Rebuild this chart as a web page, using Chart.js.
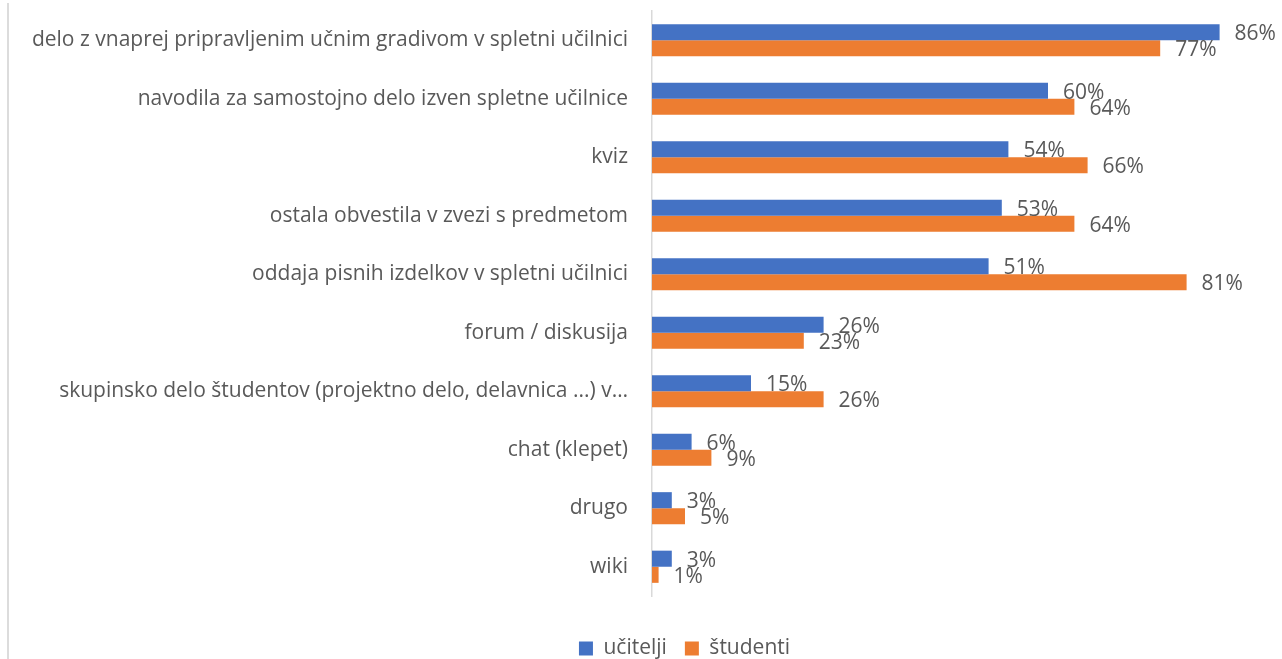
<!DOCTYPE html>
<html>
<head>
<meta charset="utf-8">
<title>Uporaba spletne učilnice</title>
<script src="https://cdn.jsdelivr.net/npm/chart.js@4.4.1/dist/chart.umd.min.js"></script>
<style>
  html, body { margin: 0; padding: 0; background: #ffffff; overflow: hidden; }
  #wrap { position: relative; width: 1282px; height: 669px; }
  #frame { position: absolute; left: 7px; top: 3px; width: 2px; height: 666px; background: #dcdcdc; }
  #c { position: absolute; left: 0; top: 0; }
</style>
</head>
<body>
<div id="wrap">
  <div id="frame"></div>
  <canvas id="c" width="1282" height="669" style="width:1282px;height:669px"></canvas>
</div>
<script>
// Activities in the online classroom
const categories = [
  'delo z vnaprej pripravljenim učnim gradivom v spletni učilnici',
  'navodila za samostojno delo izven spletne učilnice',
  'kviz',
  'ostala obvestila v zvezi s predmetom',
  'oddaja pisnih izdelkov v spletni učilnici',
  'forum / diskusija',
  'skupinsko delo študentov (projektno delo, delavnica ...) v…',
  'chat (klepet)',
  'drugo',
  'wiki'
];
const seriesNames = ['učitelji', 'študenti'];
// Shares in percent
const ucitelji = [86, 60, 54, 53, 51, 26, 15, 6, 3, 3];
const studenti = [77, 64, 66, 64, 81, 23, 26, 9, 5, 1];

const FONT = '"Open Sans", "DejaVu Sans", sans-serif';
const SIZE = 21;
const TEXT = '#595959';

// Percentage label after the end of every bar
const valueLabels = {
  id: 'valueLabels',
  afterDatasetsDraw(chart) {
    const ctx = chart.ctx;
    ctx.save();
    ctx.font = SIZE + 'px ' + FONT;
    ctx.fillStyle = TEXT;
    ctx.textAlign = 'left';
    ctx.textBaseline = 'middle';
    chart.data.datasets.forEach((ds, i) => {
      chart.getDatasetMeta(i).data.forEach((bar, j) => {
        ctx.fillText(ds.data[j] + '%', bar.x + 15, bar.y + 2);
      });
    });
    ctx.restore();
  }
};

// Center the legend under the plot rather than the whole canvas
const legendShift = {
  id: 'legendShift',
  afterLayout(chart) {
    const lg = chart.legend;
    if (lg) { lg.left += 45; lg.right += 45; }
  }
};

function draw() {
  new Chart(document.getElementById('c'), {
    type: 'bar',
    data: {
      labels: categories,
      datasets: [
        { label: seriesNames[0], data: ucitelji, backgroundColor: '#4472C4' },
        { label: seriesNames[1], data: studenti, backgroundColor: '#ED7D31' }
      ]
    },
    options: {
      indexAxis: 'y',
      responsive: false,
      animation: false,
      layout: { autoPadding: false, padding: { left: 0, right: 3, top: 11, bottom: 0 } },
      datasets: { bar: { categoryPercentage: 0.55, barPercentage: 1 } },
      scales: {
        x: { display: false, min: 0, max: 95 },
        y: {
          afterFit(scale) {
            scale.width = 652;
            scale.paddingTop = 0;
            scale.paddingBottom = 0;
          },
          grid: { display: false, drawTicks: true, tickLength: 24 },
          border: { display: true, color: '#d9d9d9', width: 1.5 },
          ticks: { color: TEXT, font: { family: FONT, size: SIZE }, padding: 0, autoSkip: false }
        }
      },
      plugins: {
        tooltip: { enabled: false },
        legend: {
          position: 'bottom',
          title: { display: true, text: ' ', font: { size: 24, lineHeight: 1 }, padding: 0 },
          labels: {
            boxWidth: 14, boxHeight: 14, padding: 18,
            color: TEXT, font: { family: FONT, size: SIZE }
          }
        }
      }
    },
    plugins: [valueLabels, legendShift]
  });
}

if (document.fonts && document.fonts.load) {
  document.fonts.load(SIZE + 'px "Open Sans"').then(draw, draw);
} else {
  draw();
}
</script>
</body>
</html>
